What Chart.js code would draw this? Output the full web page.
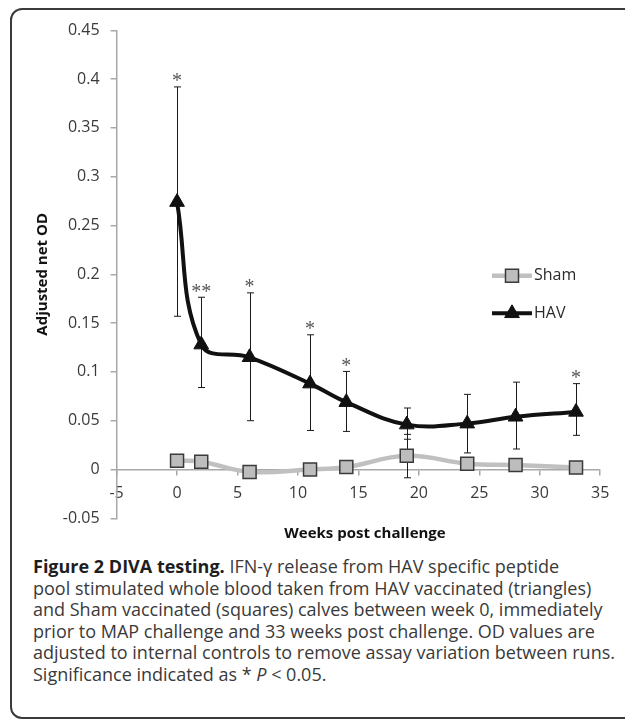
<!DOCTYPE html>
<html><head><meta charset="utf-8">
<script src="https://cdn.jsdelivr.net/npm/chart.js@4.4.0/dist/chart.umd.min.js"></script>
<style>
html,body{margin:0;padding:0;width:625px;height:719px;overflow:hidden;background:#fff;}
#frame{position:absolute;left:10px;top:8px;width:700px;height:711px;box-sizing:border-box;border:2px solid #3a3a3a;border-radius:12px;}
#wrap{position:absolute;left:0;top:0;width:730px;height:550px;}
#caption{position:absolute;left:33px;top:556px;font-family:'Open Sans';font-size:18px;line-height:21.6px;color:#3a3a3a;white-space:nowrap;transform-origin:0 0;transform:scaleX(1.0);}
#caption b{color:#1e1e1e;}
</style></head><body>
<div id="frame"></div>
<div id="wrap"><canvas id="c" width="730" height="550"></canvas></div>
<div id="caption"><b>Figure 2 DIVA testing.</b> IFN-γ release from HAV specific peptide<br>pool stimulated whole blood taken from HAV vaccinated (triangles)<br>and Sham vaccinated (squares) calves between week 0, immediately<br>prior to MAP challenge and 33 weeks post challenge. OD values are<br>adjusted to internal controls to remove assay variation between runs.<br>Significance indicated as * <i>P</i> &lt; 0.05.</div>
<script>
// ---- data ----
const weeks = [0, 2, 6, 11, 14, 19, 24, 28, 33];
const shamMean = [0.009, 0.008, -0.0025, 0.0, 0.0025, 0.014, 0.006, 0.0045, 0.002];
const shamUpper = [null, null, null, null, null, 0.036, null, null, null];
const shamLower = [null, null, null, null, null, -0.0085, null, null, null];
const havMean = [0.274, 0.128, 0.115, 0.088, 0.069, 0.046, 0.047, 0.054, 0.059];
const havUpper = [0.392, 0.1765, 0.181, 0.138, 0.1005, 0.063, 0.077, 0.0895, 0.088];
const havLower = [0.157, 0.084, 0.050, 0.040, 0.039, 0.031, 0.017, 0.021, 0.035];
const havSig = ['*', '**', '*', '*', '*', '', '', '', '*'];
const seriesNames = ['Sham', 'HAV'];
const xTickValues = [-5, 0, 5, 10, 15, 20, 25, 30, 35];
const xTickLabels = ['-5', '0', '5', '10', '15', '20', '25', '30', '35'];
const yTickValues = [-0.05, 0, 0.05, 0.1, 0.15, 0.2, 0.25, 0.3, 0.35, 0.4, 0.45];
const yTickLabels = ['-0.05', '0', '0.05', '0.1', '0.15', '0.2', '0.25', '0.3', '0.35', '0.4', '0.45'];
const xTitle = 'Weeks post challenge';
const yTitle = 'Adjusted net OD';

const FONT = "'Open Sans', 'DejaVu Sans', sans-serif";
const AXIS_GREY = '#a8a8a8';

const errorBars = {
  id: 'errorBars',
  beforeDatasetsDraw(chart) {
    const {ctx, scales: {x, y}} = chart;
    ctx.save();
    ctx.strokeStyle = '#1a1a1a';
    ctx.lineWidth = 1;
    chart.data.datasets.forEach(ds => {
      ds.data.forEach((p, i) => {
        const up = ds.errUpper[i], lo = ds.errLower[i];
        if (up == null || lo == null) return;
        const px = Math.round(x.getPixelForValue(p.x)) + 0.5;
        const yu = y.getPixelForValue(up), yl = y.getPixelForValue(lo);
        ctx.beginPath();
        ctx.moveTo(px, yu); ctx.lineTo(px, yl);
        ctx.moveTo(px - 3.5, yu); ctx.lineTo(px + 3.5, yu);
        ctx.moveTo(px - 3.5, yl); ctx.lineTo(px + 3.5, yl);
        ctx.stroke();
      });
    });
    ctx.restore();
  },
  afterDatasetsDraw(chart) {
    const {ctx, scales: {x, y}} = chart;
    ctx.save();
    ctx.fillStyle = '#555';
    ctx.font = "20px 'Liberation Serif', serif";
    ctx.textAlign = 'center';
    ctx.textBaseline = 'alphabetic';
    havSig.forEach((s, i) => {
      if (!s) return;
      const px = x.getPixelForValue(weeks[i]);
      const py = y.getPixelForValue(havUpper[i]);
      ctx.fillText(s, px, py + 0.5);
    });
    ctx.restore();
  },
  afterDraw(chart) {
    const {ctx} = chart;
    const rows = [275.7, 313.3];
    ctx.save();
    chart.data.datasets.forEach((ds, i) => {
      const yy = rows[i];
      ctx.strokeStyle = ds.borderColor;
      ctx.lineWidth = ds.borderWidth;
      ctx.beginPath(); ctx.moveTo(492, yy); ctx.lineTo(532, yy); ctx.stroke();
      ctx.fillStyle = ds.pointBackgroundColor;
      ctx.strokeStyle = ds.pointBorderColor;
      ctx.lineWidth = ds.pointBorderWidth;
      Chart.helpers.drawPoint(ctx, {pointStyle: ds.pointStyle, radius: ds.pointRadius, rotation: 0, borderWidth: ds.pointBorderWidth}, 512, yy);
      ctx.fillStyle = '#2a2a2a';
      ctx.font = '16px ' + FONT;
      ctx.textAlign = 'left';
      ctx.textBaseline = 'middle';
      ctx.fillText(ds.label, 534, yy);
    });
    ctx.restore();
  }
};

new Chart(document.getElementById('c'), {
  type: 'line',
  data: {
    datasets: [
      {
        label: seriesNames[0],
        data: weeks.map((w, i) => ({x: w, y: shamMean[i]})),
        errUpper: shamUpper, errLower: shamLower,
        borderColor: '#c0c0c0', borderWidth: 4.5,
        pointStyle: 'rect', pointRadius: 9.2,
        pointBackgroundColor: '#bdbdbd', pointBorderColor: '#3a3a3a', pointBorderWidth: 1.5,
        tension: 0.4, fill: false
      },
      {
        label: seriesNames[1],
        data: weeks.map((w, i) => ({x: w, y: havMean[i]})),
        errUpper: havUpper, errLower: havLower,
        borderColor: '#111111', borderWidth: 4,
        pointStyle: 'triangle', pointRadius: 8.5,
        pointBackgroundColor: '#111111', pointBorderColor: '#111111', pointBorderWidth: 1,
        tension: 0.4, fill: false
      }
    ]
  },
  options: {
    responsive: false,
    animation: false,
    devicePixelRatio: 1,
    layout: {padding: {left: 0, top: 30.3, right: 0, bottom: 7.7}},
    plugins: {
      legend: {display: false},
      tooltip: {enabled: false},
      title: {
        display: true, position: 'bottom', text: xTitle,
        color: '#111', font: {family: FONT, size: 15, weight: 'bold'},
        padding: {top: 6, bottom: 0}
      }
    },
    scales: {
      x: {
        type: 'linear', min: -5, max: 35,
        position: {y: 0},
        afterBuildTicks: s => { s.ticks = xTickValues.map(v => ({value: v})); },
        ticks: {
          callback: (v, i) => xTickLabels[i],
          color: '#3a3a3a', font: {family: FONT, size: 16}, padding: 9, maxRotation: 0, autoSkip: false
        },
        grid: {display: true, drawOnChartArea: false, drawTicks: true, tickLength: 5, color: AXIS_GREY, lineWidth: 1.5},
        border: {display: true, color: AXIS_GREY, width: 1.5}
      },
      y: {
        type: 'linear', min: -0.05, max: 0.45, position: 'left',
        afterBuildTicks: s => { s.ticks = yTickValues.map(v => ({value: v})); },
        afterFit: s => { s.width = 116.6; },
        ticks: {
          callback: (v, i) => yTickLabels[i],
          color: '#3a3a3a', font: {family: FONT, size: 16}, padding: 11, autoSkip: false
        },
        grid: {display: true, drawOnChartArea: false, drawTicks: true, tickLength: 6, color: AXIS_GREY, lineWidth: 1.5},
        border: {display: true, color: AXIS_GREY, width: 1.5},
        title: {
          display: true, text: yTitle, color: '#111',
          font: {family: FONT, size: 15, weight: 'bold'},
          padding: {top: 34, bottom: 0}
        }
      },
      yRight: {
        type: 'linear', position: 'right', display: true,
        afterFit: s => { s.width = 129.8; },
        ticks: {display: false},
        grid: {display: false},
        border: {display: false}
      }
    }
  },
  plugins: [errorBars]
});
</script>
</body></html>
